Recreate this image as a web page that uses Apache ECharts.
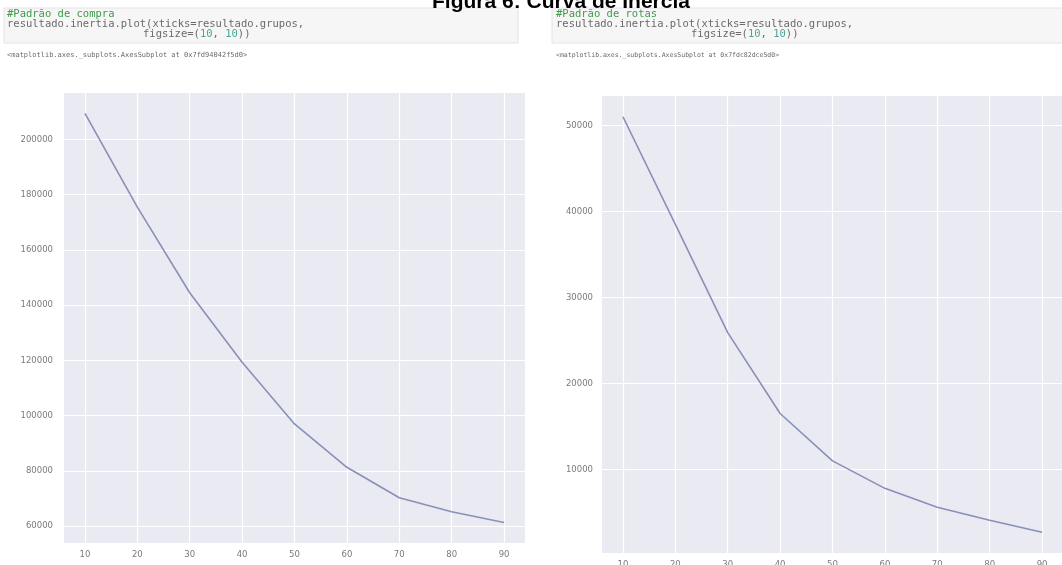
<!DOCTYPE html>
<html>
<head>
<meta charset="utf-8">
<script src="https://cdn.jsdelivr.net/npm/echarts@6/dist/echarts.min.js"></script>
<style>
html,body{margin:0;padding:0;background:#fff;}
#chart{width:1062px;height:565px;}
</style>
</head>
<body>
<div id="chart"></div>
<script>
// ---- data ----
const grupos = [10, 20, 30, 40, 50, 60, 70, 80, 90];
const inerciaCompra = [209400, 175500, 144500, 119300, 97000, 81300, 70300, 65200, 61300];
const inerciaRotas = [51000, 38500, 25900, 16500, 11000, 7800, 5600, 4100, 2700];
const xTickLabels = [10, 20, 30, 40, 50, 60, 70, 80, 90];
const yTicksCompra = [60000, 80000, 100000, 120000, 140000, 160000, 180000, 200000];
const yTicksRotas = [10000, 20000, 30000, 40000, 50000];
const titleText = 'Figura 6: Curva de Inércia';
const codeLeft = ['#Padrão de compra', 'resultado.inertia.plot(xticks=resultado.grupos,', 'figsize=(10, 10))'];
const codeRight = ['#Padrão de rotas', 'resultado.inertia.plot(xticks=resultado.grupos,', 'figsize=(10, 10))'];
const outLeft = '<matplotlib.axes._subplots.AxesSubplot at 0x7fd94042f5d0>';
const outRight = '<matplotlib.axes._subplots.AxesSubplot at 0x7fdc82dce5d0>';

function range(arr) {
  const mn = Math.min(...arr), mx = Math.max(...arr), m = (mx - mn) * 0.05;
  return [mn - m, mx + m];
}
const xr = range(grupos);
const yrL = range(inerciaCompra);
const yrR = range(inerciaRotas);

const chart = echarts.init(document.getElementById('chart'));
const labelStyle = { color: '#7a7a7a', fontFamily: 'DejaVu Sans', fontSize: 8.5, formatter: v => String(Math.round(v)) };
const gridBg = '#eaeaf2';
const lineColor = '#8890b8';

function xAxisDef(gi, margin) {
  return {
    type: 'value', gridIndex: gi, min: xr[0], max: xr[1],
    axisLine: { show: false },
    axisTick: { show: false, customValues: xTickLabels },
    axisLabel: Object.assign({ customValues: xTickLabels, margin: margin }, labelStyle),
    splitLine: { show: true, lineStyle: { color: '#ffffff', width: 1.2 } }
  };
}
function yAxisDef(gi, r, ticks, margin) {
  return {
    type: 'value', gridIndex: gi, min: r[0], max: r[1],
    axisLine: { show: false },
    axisTick: { show: false, customValues: ticks },
    axisLabel: Object.assign({ customValues: ticks, margin: margin }, labelStyle),
    splitLine: { show: true, lineStyle: { color: '#ffffff', width: 1.2 } }
  };
}

const mono = 'DejaVu Sans Mono';
function codeGraphics(x0, boxX, boxW, lines, out, figX, outSize) {
  const g = [];
  g.push({ type: 'rect', shape: { x: boxX, y: 8, width: boxW, height: 35 },
    style: { fill: '#f6f6f6', stroke: '#e4e4e4', lineWidth: 1 } });
  g.push({ type: 'text', x: x0, y: 14, style: { text: lines[0], fill: '#3f9a4a', font: '10.5px ' + mono, verticalAlign: 'middle' } });
  g.push({ type: 'text', x: x0, y: 24, style: { text: lines[1], fill: '#6a6a6a', font: '10.5px ' + mono, verticalAlign: 'middle' } });
  g.push({ type: 'text', x: figX, y: 34, style: {
    text: '{a|figsize=(}{n|10}{a|, }{n|10}{a|))}',
    verticalAlign: 'middle',
    rich: { a: { fill: '#6a6a6a', font: '10.5px ' + mono }, n: { fill: '#4aa59a', font: '10.5px ' + mono } } } });
  g.push({ type: 'text', x: x0, y: 55, style: { text: out, fill: '#6a6a6a', font: outSize + 'px ' + mono, verticalAlign: 'middle' } });
  return g;
}

const graphics = [].concat(
  codeGraphics(7, 4, 514, codeLeft, outLeft, 143, 7),
  codeGraphics(556, 552, 520, codeRight, outRight, 691, 6.5),
  [{ type: 'text', x: 561, y: 2, style: { text: titleText, fill: '#000', font: 'bold 21px "Liberation Sans", Arial, sans-serif', align: 'center', verticalAlign: 'middle' } }]
);

chart.setOption({
  animation: false,
  backgroundColor: '#ffffff',
  grid: [
    { left: 64, top: 93, width: 461, height: 450, show: true, backgroundColor: gridBg, borderWidth: 0, outerBoundsMode: 'none', containLabel: false },
    { left: 602, top: 96, width: 461, height: 457, show: true, backgroundColor: gridBg, borderWidth: 0, outerBoundsMode: 'none', containLabel: false }
  ],
  xAxis: [xAxisDef(0, 7), xAxisDef(1, 7)],
  yAxis: [yAxisDef(0, yrL, yTicksCompra, 11), yAxisDef(1, yrR, yTicksRotas, 9)],
  series: [
    { type: 'line', xAxisIndex: 0, yAxisIndex: 0, data: grupos.map((g, i) => [g, inerciaCompra[i]]),
      showSymbol: false, lineStyle: { color: lineColor, width: 1.6 } },
    { type: 'line', xAxisIndex: 1, yAxisIndex: 1, data: grupos.map((g, i) => [g, inerciaRotas[i]]),
      showSymbol: false, lineStyle: { color: lineColor, width: 1.6 } }
  ],
  graphic: graphics
});
</script>
</body>
</html>
